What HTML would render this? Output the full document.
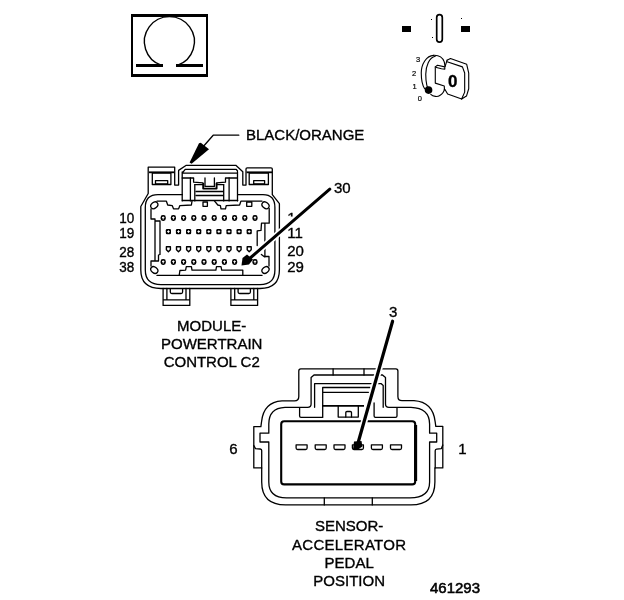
<!DOCTYPE html>
<html lang="en"><head><meta charset="utf-8"><title>Connector diagram 461293</title>
<style>
html,body{margin:0;padding:0;background:#fff;}
body{width:624px;height:600px;overflow:hidden;}
svg{display:block;will-change:transform;}
.t{font-family:"Liberation Sans", Arial, Helvetica, sans-serif;font-size:15px;fill:#000;stroke:#000;stroke-width:0.35px;}
.c{text-anchor:middle;}
.l{fill:none;stroke:#000;stroke-width:1.3;stroke-linejoin:round;stroke-linecap:round;}
.k{fill:none;stroke:#000;stroke-width:2.2;stroke-linejoin:round;}
.s{font-family:"Liberation Sans", Arial, Helvetica, sans-serif;font-size:7.5px;fill:#000;stroke:#000;stroke-width:0.2px;}
</style></head><body>
<svg width="624" height="600" viewBox="0 0 624 600">
<rect width="624" height="600" fill="#fff"/>
<g id="ohm">
<rect x="131" y="14" width="77" height="3" fill="#000"/>
<rect x="131" y="74" width="77" height="3" fill="#000"/>
<rect x="131" y="14" width="2" height="63" fill="#000"/>
<rect x="206" y="14" width="2" height="63" fill="#000"/>
<path class="l" style="stroke-width:1.4" d="M161.5,65.3 A25,25 0 1 1 177.3,65.3"/>
<rect x="136" y="64" width="27" height="3" fill="#000"/>
<rect x="176" y="64" width="27" height="3" fill="#000"/>
</g>
<g id="ign">
<rect x="402" y="26" width="9" height="6" fill="#000"/>
<rect x="461" y="26" width="9" height="6" fill="#000"/>
<rect x="436.7" y="14.7" width="5.6" height="27.4" rx="2.8" ry="2.8" class="l" style="stroke-width:1.7"/>
<rect x="431" y="19" width="1" height="1" fill="#000"/>
<rect x="432" y="37" width="1" height="1" fill="#000"/>
<rect x="461" y="18" width="1" height="1" fill="#000"/>
<g transform="translate(405,45) scale(0.11218)">
<path d="M255,92 C190,95 145,170 145,250 C145,310 155,360 175,390" fill="none" stroke="#000" stroke-width="10" stroke-linejoin="round" stroke-linecap="round"/>
<path d="M270,100 C215,110 185,190 185,260 C185,330 200,390 220,420" fill="none" stroke="#000" stroke-width="10" stroke-linejoin="round" stroke-linecap="round"/>
<path d="M230,440 C250,460 290,465 310,450 C335,435 350,410 352,390" fill="none" stroke="#000" stroke-width="10" stroke-linejoin="round" stroke-linecap="round"/>
<path d="M255,92 C300,90 335,110 350,150 L357,190" fill="none" stroke="#000" stroke-width="10" stroke-linejoin="round" stroke-linecap="round"/>
<path d="M270,195 L290,180 L355,195 L355,215 L325,212 L280,200" fill="none" stroke="#000" stroke-width="10" stroke-linejoin="round" stroke-linecap="round"/>
<path d="M270,195 L270,340 L350,365 L352,400" fill="none" stroke="#000" stroke-width="10" stroke-linejoin="round" stroke-linecap="round"/>
<path d="M375,135 L405,120 L550,172 L568,250 L568,390 L548,455 L505,482 L380,437 L355,395" fill="none" stroke="#000" stroke-width="10" stroke-linejoin="round" stroke-linecap="round"/>
<path d="M375,135 L358,190" fill="none" stroke="#000" stroke-width="10" stroke-linejoin="round" stroke-linecap="round"/>
<path d="M375,150 L512,195 L532,250 L532,420 L505,482" fill="none" stroke="#000" stroke-width="10" stroke-linejoin="round" stroke-linecap="round"/>
<circle cx="210" cy="402" r="34" fill="#000"/>
</g>
<text x="452.7" y="87.3" class="t c" style="font-size:17px;font-weight:bold">0</text>
<text x="416" y="61.6" class="s">3</text>
<text x="412" y="75.8" class="s">2</text>
<text x="412.5" y="89" class="s">1</text>
<text x="417.8" y="100.8" class="s">0</text>
</g>
<text x="246" y="139.6" class="t">BLACK/ORANGE</text>
<path class="l" d="M238.8,135.2 L213.2,135.2 L202,148"/>
<path d="M189.6,162.6 L199,143.2 L200.8,142.8 L209,149.2 L191.6,163.8 Z" fill="#000"/>
<g id="c1">
<path class="l" d="M148.2,167.2 H174.7 V185.1 H178.6 V170.4 L186.3,165.3 H235.8 L242.8,171.7 V185.1 H246 V169 Q246,167.8 247.2,167.8 H271 Q272.3,167.8 272.3,169 V194.7 L279.4,203.7 V270 Q279.4,288.5 260,288.5 H161 Q140.8,288.5 140.8,270 V206.5 L148.2,193.5 Z"/>
<path class="l" d="M182.4,194.7 H158 Q145.3,194.7 145.3,207.5 V270 Q145.3,284.6 161,284.6 H260 Q274.9,284.6 274.9,270 V207.5 Q274.9,194.7 263,194.7 H237.7"/>
<path class="l" d="M157,201.2 H166.4 L167.7,205 L172.2,205.6 L173.5,208.8 H178.6 L179.9,205.6 L191.4,205 L192,201.2"/>
<path class="l" d="M214.6,201.2 L217.8,205 L220.4,205.6 L221,208.8 H225.5 L226.2,205.6 L239.6,205 L240.9,201.2 H262"/>
<path class="l" d="M182.4,200.5 H237.7"/>
<rect class="l" x="203" y="202" width="4.4" height="4.3"/>
<rect class="l" x="246.7" y="202" width="5.1" height="4.3"/>
<ellipse class="l" cx="154.3" cy="205.3" rx="3.9" ry="2.9" transform="rotate(-40 154.3 205.3)"/>
<ellipse class="l" cx="265.5" cy="205.3" rx="3.9" ry="2.9" transform="rotate(40 265.5 205.3)"/>
<ellipse class="l" cx="154.3" cy="270" rx="3.9" ry="2.9" transform="rotate(40 154.3 270)"/>
<ellipse class="l" cx="265.5" cy="270" rx="3.9" ry="2.9" transform="rotate(-40 265.5 270)"/>
<path class="l" d="M151,209 V219 H155 M155,219 V260 M155,221 H160 V254.5 L158.5,255 V261 H151 V266"/>
<path class="l" d="M269.2,208.5 V223.2 H261.5 L261,230.4 L257.2,230.9 V245.5 M264.9,223.5 V257 M261.4,254.5 L264,256.5 L269,256.5 V266"/>
<path class="l" d="M157,275.4 H262"/>
<path class="l" d="M179.2,275.4 L179.9,270.5 L185.6,270.1 L186.3,266.7 H191.4 L192,270.1 H215.9 L216.5,266.7 H221 L221.7,270.1 H242.8 V275.4"/>
<path class="k" style="stroke-width:1.8" d="M149,172.3 H174"/>
<rect class="l" x="152.3" y="173" width="18.6" height="11.5"/>
<rect class="l" x="155.5" y="180.6" width="12.2" height="3.2"/>
<path class="k" style="stroke-width:1.8" d="M246.5,172.3 H272"/>
<rect class="l" x="249.2" y="173" width="19.2" height="11.5"/>
<rect class="l" x="253.7" y="180.6" width="10.9" height="3.2"/>
<path class="l" d="M182.2,172 V200.9 M237.5,172 V200.9 M182.2,173.2 L185.2,169.4 H236.3 L237.5,171 M182.2,173.2 H237.5"/>
<path class="l" d="M182.2,178 H193.6 V182.2 L203,182.8 M237.5,178 H225.5 V182.2 L216.5,182.8"/>
<path class="l" d="M190.4,178 V200.9 M229.1,178 V200.9 M194.8,184.6 V200.9 M223.7,184.6 V200.9"/>
<path class="l" d="M194.8,184.6 H203.2 M216.5,184.6 H223.7 M196,191.5 H223 M196,195.5 H223"/>
<path class="l" d="M205,178 V186.4 H214.4 V178"/>
<path class="k" style="stroke-width:1.9" d="M203.2,183 V188.6 H216.6 V183"/>
<path class="l" d="M163.1,288.5 V305.4 H189.8 V288.5 M163.1,299.8 H189.8 M166.9,288.5 V299.8 M186,288.5 V299.8"/>
<path class="l" d="M170.3,289 V292 Q170.3,293.5 171.8,293.5 H181.1 Q182.6,293.5 182.6,292 V289"/>
<path class="l" d="M230.9,288.5 V305.4 H257.6 V288.5 M230.9,299.8 H257.6 M234.7,288.5 V299.8 M253.8,288.5 V299.8"/>
<path class="l" d="M238.1,289 V292 Q238.1,293.5 239.6,293.5 H248.9 Q250.4,293.5 250.4,292 V289"/>
<rect x="160.6" y="215.1" width="5.2" height="5.8" rx="2.3" fill="#000"/>
<path d="M163.2,216.5 v3 M162,217.6 h2.4" stroke="#fff" stroke-width="1" fill="none"/>
<rect x="170.8" y="215.1" width="5.2" height="5.8" rx="2.3" fill="#000"/>
<path d="M173.4,216.5 v3 M172.2,217.6 h2.4" stroke="#fff" stroke-width="1" fill="none"/>
<rect x="181" y="215.1" width="5.2" height="5.8" rx="2.3" fill="#000"/>
<path d="M183.6,216.5 v3 M182.4,217.6 h2.4" stroke="#fff" stroke-width="1" fill="none"/>
<rect x="191.2" y="215.1" width="5.2" height="5.8" rx="2.3" fill="#000"/>
<path d="M193.8,216.5 v3 M192.6,217.6 h2.4" stroke="#fff" stroke-width="1" fill="none"/>
<rect x="201.4" y="215.1" width="5.2" height="5.8" rx="2.3" fill="#000"/>
<path d="M204,216.5 v3 M202.8,217.6 h2.4" stroke="#fff" stroke-width="1" fill="none"/>
<rect x="211.6" y="215.1" width="5.2" height="5.8" rx="2.3" fill="#000"/>
<path d="M214.2,216.5 v3 M213,217.6 h2.4" stroke="#fff" stroke-width="1" fill="none"/>
<rect x="221.8" y="215.1" width="5.2" height="5.8" rx="2.3" fill="#000"/>
<path d="M224.4,216.5 v3 M223.2,217.6 h2.4" stroke="#fff" stroke-width="1" fill="none"/>
<rect x="232" y="215.1" width="5.2" height="5.8" rx="2.3" fill="#000"/>
<path d="M234.6,216.5 v3 M233.4,217.6 h2.4" stroke="#fff" stroke-width="1" fill="none"/>
<rect x="242.2" y="215.1" width="5.2" height="5.8" rx="2.3" fill="#000"/>
<path d="M244.8,216.5 v3 M243.6,217.6 h2.4" stroke="#fff" stroke-width="1" fill="none"/>
<rect x="252.4" y="215.1" width="5.2" height="5.8" rx="2.3" fill="#000"/>
<path d="M255,216.5 v3 M253.8,217.6 h2.4" stroke="#fff" stroke-width="1" fill="none"/>
<rect x="165.8" y="229" width="5.2" height="5.2" rx="1.3" fill="#000"/>
<path d="M168.4,230.3 v2.6 M167.1,231.6 h2.6" stroke="#fff" stroke-width="1" fill="none"/>
<rect x="175.9" y="229" width="5.2" height="5.2" rx="1.3" fill="#000"/>
<path d="M178.5,230.3 v2.6 M177.2,231.6 h2.6" stroke="#fff" stroke-width="1" fill="none"/>
<rect x="186" y="229" width="5.2" height="5.2" rx="1.3" fill="#000"/>
<path d="M188.6,230.3 v2.6 M187.3,231.6 h2.6" stroke="#fff" stroke-width="1" fill="none"/>
<rect x="196.1" y="229" width="5.2" height="5.2" rx="1.3" fill="#000"/>
<path d="M198.7,230.3 v2.6 M197.4,231.6 h2.6" stroke="#fff" stroke-width="1" fill="none"/>
<rect x="206.2" y="229" width="5.2" height="5.2" rx="1.3" fill="#000"/>
<path d="M208.8,230.3 v2.6 M207.5,231.6 h2.6" stroke="#fff" stroke-width="1" fill="none"/>
<rect x="216.3" y="229" width="5.2" height="5.2" rx="1.3" fill="#000"/>
<path d="M218.9,230.3 v2.6 M217.6,231.6 h2.6" stroke="#fff" stroke-width="1" fill="none"/>
<rect x="226.4" y="229" width="5.2" height="5.2" rx="1.3" fill="#000"/>
<path d="M229,230.3 v2.6 M227.7,231.6 h2.6" stroke="#fff" stroke-width="1" fill="none"/>
<rect x="236.5" y="229" width="5.2" height="5.2" rx="1.3" fill="#000"/>
<path d="M239.1,230.3 v2.6 M237.8,231.6 h2.6" stroke="#fff" stroke-width="1" fill="none"/>
<rect x="246.6" y="229" width="5.2" height="5.2" rx="1.3" fill="#000"/>
<path d="M249.2,230.3 v2.6 M247.9,231.6 h2.6" stroke="#fff" stroke-width="1" fill="none"/>
<path class="l" style="stroke-width:1.4" d="M166.4,246.8 H170.4 V249.8 L168.4,251.7 L166.4,249.8 Z"/>
<path class="l" style="stroke-width:1.4" d="M176.5,246.8 H180.5 V249.8 L178.5,251.7 L176.5,249.8 Z"/>
<path class="l" style="stroke-width:1.4" d="M186.6,246.8 H190.6 V249.8 L188.6,251.7 L186.6,249.8 Z"/>
<path class="l" style="stroke-width:1.4" d="M196.7,246.8 H200.7 V249.8 L198.7,251.7 L196.7,249.8 Z"/>
<path class="l" style="stroke-width:1.4" d="M206.8,246.8 H210.8 V249.8 L208.8,251.7 L206.8,249.8 Z"/>
<path class="l" style="stroke-width:1.4" d="M216.9,246.8 H220.9 V249.8 L218.9,251.7 L216.9,249.8 Z"/>
<path class="l" style="stroke-width:1.4" d="M227,246.8 H231 V249.8 L229,251.7 L227,249.8 Z"/>
<path class="l" style="stroke-width:1.4" d="M237.1,246.8 H241.1 V249.8 L239.1,251.7 L237.1,249.8 Z"/>
<path class="l" style="stroke-width:1.4" d="M247.2,246.8 H251.2 V249.8 L249.2,251.7 L247.2,249.8 Z"/>
<rect x="160.6" y="259.1" width="5.2" height="5.8" rx="2.3" fill="#000"/>
<path d="M163.2,260.5 v3 M162,261.6 h2.4" stroke="#fff" stroke-width="1" fill="none"/>
<rect x="170.8" y="259.1" width="5.2" height="5.8" rx="2.3" fill="#000"/>
<path d="M173.4,260.5 v3 M172.2,261.6 h2.4" stroke="#fff" stroke-width="1" fill="none"/>
<rect x="181" y="259.1" width="5.2" height="5.8" rx="2.3" fill="#000"/>
<path d="M183.6,260.5 v3 M182.4,261.6 h2.4" stroke="#fff" stroke-width="1" fill="none"/>
<rect x="191.2" y="259.1" width="5.2" height="5.8" rx="2.3" fill="#000"/>
<path d="M193.8,260.5 v3 M192.6,261.6 h2.4" stroke="#fff" stroke-width="1" fill="none"/>
<rect x="201.4" y="259.1" width="5.2" height="5.8" rx="2.3" fill="#000"/>
<path d="M204,260.5 v3 M202.8,261.6 h2.4" stroke="#fff" stroke-width="1" fill="none"/>
<rect x="211.6" y="259.1" width="5.2" height="5.8" rx="2.3" fill="#000"/>
<path d="M214.2,260.5 v3 M213,261.6 h2.4" stroke="#fff" stroke-width="1" fill="none"/>
<rect x="221.8" y="259.1" width="5.2" height="5.8" rx="2.3" fill="#000"/>
<path d="M224.4,260.5 v3 M223.2,261.6 h2.4" stroke="#fff" stroke-width="1" fill="none"/>
<rect x="232" y="259.1" width="5.2" height="5.8" rx="2.3" fill="#000"/>
<path d="M234.6,260.5 v3 M233.4,261.6 h2.4" stroke="#fff" stroke-width="1" fill="none"/>
<rect x="252.4" y="259.1" width="5.2" height="5.8" rx="2.3" fill="#000"/>
<path d="M255,260.5 v3 M253.8,261.6 h2.4" stroke="#fff" stroke-width="1" fill="none"/>
</g>
<text x="119.3" y="222.6" class="t" style="font-size:14.2px" textLength="15" lengthAdjust="spacingAndGlyphs">10</text>
<text x="119.3" y="237.9" class="t" style="font-size:14.2px" textLength="15" lengthAdjust="spacingAndGlyphs">19</text>
<text x="119.3" y="256.6" class="t" style="font-size:14.2px" textLength="15" lengthAdjust="spacingAndGlyphs">28</text>
<text x="119.3" y="271.6" class="t" style="font-size:14.2px" textLength="15" lengthAdjust="spacingAndGlyphs">38</text>
<text x="287.2" y="237.8" class="t">11</text>
<text x="287.2" y="256.2" class="t">20</text>
<text x="287.2" y="271.5" class="t">29</text>
<text x="334" y="193.4" class="t">30</text>
<clipPath id="c1clip"><rect x="286" y="208" width="12" height="8.4"/></clipPath>
<text x="287.2" y="222.7" class="t" clip-path="url(#c1clip)">1</text>
<path d="M327,191.6 L252,256.4" stroke="#fff" stroke-width="6.4" fill="none"/>
<path d="M329.8,189.2 L249,259" stroke="#000" stroke-width="3" fill="none" stroke-linecap="round"/>
<path d="M241.5,265.5 L242.5,258 L247,254.5 L253,259.5 L249,264.5 Z" fill="#000"/>
<text x="211.7" y="330.8" class="t c">MODULE-</text>
<text x="211.7" y="349.2" class="t c">POWERTRAIN</text>
<text x="211.7" y="367.2" class="t c">CONTROL C2</text>
<g id="c2">
<path class="l" d="M300.8,368.8 H395.9 Q397.9,368.8 397.9,371 V396.5 Q397.9,400.7 402,400.7 H414 Q433,402 435.2,422 L435.8,426.3 H442.8 V467.9 H434.9 V482 Q434.9,504.9 411,504.9 H285.5 Q261.7,504.9 261.7,482 V467.9 H253.8 V426.6 H260.9 L261.5,422 Q263.5,402 282,400.9 H294.5 Q298.8,400.7 298.8,396.5 V371 Q298.8,368.8 300.8,368.8 Z"/>
<path class="l" d="M253.8,445.5 L255.5,448.6 L260.2,449 Q261.7,449.2 261.7,450.6 V467.9 M442.8,445 L441.4,448.6 L436.6,449.2 Q435.2,449.4 435.2,450.8 V467.9"/>
<path class="l" d="M364,375 H314 L311.1,377.6 V404 Q311.1,407.3 307.6,407.3 H285 Q268.8,408 268.8,424 V433.2 H260 V442 H268.8 V482 Q268.8,497.9 286.4,497.9 H410 Q429.6,497.9 429.6,482 V442 H436.7 V433.2 H429.6 V424 Q429.6,408 411,407.3 H389 Q385.5,407.3 385.5,404 V377.6 L382.5,375 H364"/>
<path class="l" d="M333.1,368.8 V375 M364,368.8 V375 M324.3,497.9 V504.9 M372.3,497.9 V504.9"/>
<rect class="k" x="281.2" y="421.2" width="134" height="63.2" rx="3" ry="3" style="stroke-width:2.1"/>
<path d="M415.6,425 V481" stroke="#000" stroke-width="3.1" fill="none"/>
<path class="l" d="M314.6,407.3 V383.6 H381 L383.2,385.6 V407.3"/>
<path class="l" d="M322.7,417.2 V387.5 H370 M322.7,392.3 H368.5"/>
<path class="k" style="stroke-width:1.7" d="M322,405.9 H364"/>
<path class="l" d="M299.6,407.6 V416 Q299.6,417.3 301,417.3 H322.6 M374.1,403 V416 Q374.1,417.3 375.5,417.3 H395.5 Q397,417.3 397,416 V407.6"/>
<path class="l" d="M338.2,406 V417.1 H358.3 V406"/>
<path class="l" d="M345.8,417 V412.6 Q345.8,411.5 347,411.5 H350.3 Q351.5,411.5 351.5,412.6 V417"/>
<path class="l" d="M296.1,444.8 H307.1 V448 Q307.1,449.5 305.6,449.5 H297.6 Q296.1,449.5 296.1,448 Z"/>
<path class="l" d="M315.2,444.8 H326.2 V448 Q326.2,449.5 324.7,449.5 H316.7 Q315.2,449.5 315.2,448 Z"/>
<path class="l" d="M334,444.8 H345 V448 Q345,449.5 343.5,449.5 H335.5 Q334,449.5 334,448 Z"/>
<path class="l" d="M352.4,444.8 H363.4 V448 Q363.4,449.5 361.9,449.5 H353.9 Q352.4,449.5 352.4,448 Z"/>
<path class="l" d="M371.4,444.8 H382.4 V448 Q382.4,449.5 380.9,449.5 H372.9 Q371.4,449.5 371.4,448 Z"/>
<path class="l" d="M390.5,444.8 H401.5 V448 Q401.5,449.5 400,449.5 H392 Q390.5,449.5 390.5,448 Z"/>
</g>
<path d="M391.5,325 L359.5,438" stroke="#fff" stroke-width="6.6" fill="none"/>
<path d="M392.6,321.2 L358.3,442" stroke="#000" stroke-width="3.2" fill="none" stroke-linecap="round"/>
<path d="M353,449.5 L354,441.5 L361.5,441 L362.4,446.5 L358,449.5 Z" fill="#000"/>
<text x="229.2" y="453.5" class="t">6</text>
<text x="458.2" y="453.5" class="t">1</text>
<text x="389" y="317.4" class="t">3</text>
<text x="349.2" y="531.4" class="t c">SENSOR-</text>
<text x="349.2" y="549.9" class="t c" style="letter-spacing:0.28px">ACCELERATOR</text>
<text x="349.2" y="568.4" class="t c">PEDAL</text>
<text x="349.2" y="586.4" class="t c">POSITION</text>
<text x="430" y="592.6" class="t" style="stroke-width:0.55px">461293</text>
</svg>
</body></html>
